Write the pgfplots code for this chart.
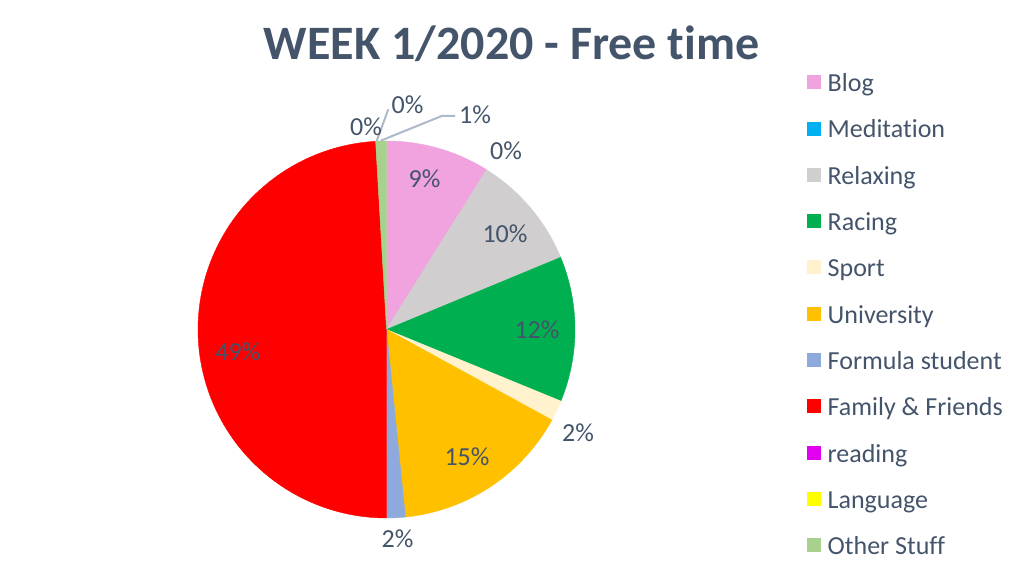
\documentclass[border=0pt]{standalone}
\usepackage{fontspec}
\setmainfont{Carlito}[RawFeature={-liga;-calt;-dlig}]
\usepackage{pgfplots}
\pgfplotsset{compat=1.18}
\definecolor{txt}{HTML}{44546A}
\definecolor{lead}{HTML}{ADB9CA}
\definecolor{cBlog}{HTML}{F0A3DE}
\definecolor{cMed}{HTML}{00B0F0}
\definecolor{cRel}{HTML}{D0CECE}
\definecolor{cRac}{HTML}{00B050}
\definecolor{cSpo}{HTML}{FFF2CC}
\definecolor{cUni}{HTML}{FFC000}
\definecolor{cFor}{HTML}{8EA9DB}
\definecolor{cFam}{HTML}{FF0000}
\definecolor{cRea}{HTML}{E100F0}
\definecolor{cLan}{HTML}{FFFF00}
\definecolor{cOth}{HTML}{A9D18E}
\pgfplotsset{legend image code/.code={\fill[#1, draw=none] (0pt,1.2pt) rectangle (7pt,8.2pt);}}
\begin{document}
\begin{tikzpicture}
\path[use as bounding box] (0,0) rectangle (511.5pt,286pt);
\begin{axis}[
  at={(0,0)}, anchor=origin,
  scale only axis, x=0.5pt, y=0.5pt,
  xmin=0, xmax=1023, ymin=0, ymax=572,
  hide axis, clip=false,
  legend cell align=left,
  legend style={at={(axis cs:806.7,498.3)}, anchor=north west, draw=none, fill=none,
    inner sep=0pt, outer sep=0pt, row sep=11.15pt, column sep=3.5pt,
    nodes={inner sep=0pt, text height=9pt, text depth=3pt,
      font=\fontsize{13}{15}\selectfont, text=txt, anchor=base west}},
]
% slices: domain = cumulative percentage (clockwise from 12 o'clock)
\addplot[forget plot, fill=cBlog, draw=cBlog, line width=0.2pt, domain=0:8.9, samples=40]
  ({386.5+188.5*sin(3.6*x)},{242.5+188.5*cos(3.6*x)}) -- (386.5,242.5) -- cycle;
\addplot[forget plot, fill=cRel, draw=cRel, line width=0.2pt, domain=8.9:18.75, samples=40]
  ({386.5+188.5*sin(3.6*x)},{242.5+188.5*cos(3.6*x)}) -- (386.5,242.5) -- cycle;
\addplot[forget plot, fill=cRac, draw=cRac, line width=0.2pt, domain=18.75:31.2, samples=40]
  ({386.5+188.5*sin(3.6*x)},{242.5+188.5*cos(3.6*x)}) -- (386.5,242.5) -- cycle;
\addplot[forget plot, fill=cSpo, draw=cSpo, line width=0.2pt, domain=31.2:32.97, samples=10]
  ({386.5+188.5*sin(3.6*x)},{242.5+188.5*cos(3.6*x)}) -- (386.5,242.5) -- cycle;
\addplot[forget plot, fill=cUni, draw=cUni, line width=0.2pt, domain=32.97:48.4, samples=50]
  ({386.5+188.5*sin(3.6*x)},{242.5+188.5*cos(3.6*x)}) -- (386.5,242.5) -- cycle;
\addplot[forget plot, fill=cFor, draw=cFor, line width=0.2pt, domain=48.4:50.0, samples=10]
  ({386.5+188.5*sin(3.6*x)},{242.5+188.5*cos(3.6*x)}) -- (386.5,242.5) -- cycle;
\addplot[forget plot, fill=cFam, draw=cFam, line width=0.2pt, domain=50.0:99.08, samples=120]
  ({386.5+188.5*sin(3.6*x)},{242.5+188.5*cos(3.6*x)}) -- (386.5,242.5) -- cycle;
\addplot[forget plot, fill=cOth, draw=cOth, line width=0.2pt, domain=99.08:100, samples=6]
  ({386.5+188.5*sin(3.6*x)},{242.5+188.5*cos(3.6*x)}) -- (386.5,242.5) -- cycle;
% leader lines
\draw[lead, line width=1pt] (376.7,431) -- (388.3,462.7);
\draw[lead, line width=1pt] (380.7,431.3) -- (441.7,456) -- (455,456);
% data labels
\begin{scope}[every node/.style={font=\fontsize{13}{15}\selectfont, text=txt, inner sep=0pt}]
\node at (424.5,393) {9\%};
\node at (506,421.5) {0\%};
\node at (505,338) {10\%};
\node at (537,242) {12\%};
\node at (578,139.5) {2\%};
\node at (467,115) {15\%};
\node at (397.5,33) {2\%};
\node at (238,220) {49\%};
\node at (366,445.5) {0\%};
\node at (407.5,467.5) {0\%};
\node at (475,457.5) {1\%};
\end{scope}
\node[anchor=base, font=\fontsize{24}{27}\selectfont\bfseries, text=txt, inner sep=0pt] at (511.7,512) {WEEK 1/2020 - Free time};
% legend
\addlegendimage{fill=cBlog}\addlegendentry{Blog}
\addlegendimage{fill=cMed}\addlegendentry{Meditation}
\addlegendimage{fill=cRel}\addlegendentry{Relaxing}
\addlegendimage{fill=cRac}\addlegendentry{Racing}
\addlegendimage{fill=cSpo}\addlegendentry{Sport}
\addlegendimage{fill=cUni}\addlegendentry{University}
\addlegendimage{fill=cFor}\addlegendentry{Formula student}
\addlegendimage{fill=cFam}\addlegendentry{Family \& Friends}
\addlegendimage{fill=cRea}\addlegendentry{reading}
\addlegendimage{fill=cLan}\addlegendentry{Language}
\addlegendimage{fill=cOth}\addlegendentry{Other Stuff}
\end{axis}
\end{tikzpicture}
\end{document}
